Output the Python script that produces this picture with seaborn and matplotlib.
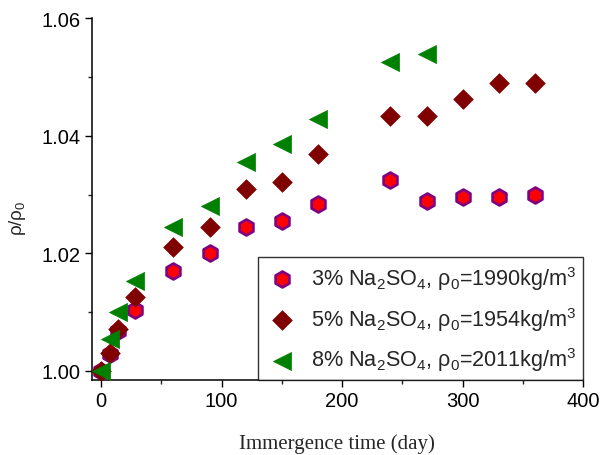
import matplotlib
matplotlib.use("Agg")
import matplotlib.pyplot as plt
import seaborn as sns
import pandas as pd
from matplotlib.ticker import MultipleLocator

days = [0, 7, 14, 28, 60, 90, 120, 150, 180, 240, 270, 300, 330, 360]
days_8 = [0, 7, 14, 28, 60, 90, 120, 150, 180, 240, 270]
ratio_3 = [1.0000, 1.0029, 1.0068, 1.0104, 1.0170, 1.0200, 1.0244, 1.0255, 1.0284,
           1.0325, 1.0289, 1.0295, 1.0295, 1.0300]
ratio_5 = [1.0000, 1.0030, 1.0071, 1.0125, 1.0211, 1.0245, 1.0309, 1.0322, 1.0369,
           1.0433, 1.0433, 1.0463, 1.0489, 1.0489]
ratio_8 = [1.0000, 1.0054, 1.0100, 1.0153, 1.0244, 1.0281, 1.0355, 1.0386, 1.0428,
           1.0526, 1.0539]
labels = [r"3% Na$_2$SO$_4$, $\rho_0$=1990kg/m$^3$",
          r"5% Na$_2$SO$_4$, $\rho_0$=1954kg/m$^3$",
          r"8% Na$_2$SO$_4$, $\rho_0$=2011kg/m$^3$"]

sns.set_style("ticks")
plt.rcParams['font.family'] = ['Liberation Sans', 'DejaVu Sans']
plt.rcParams['mathtext.fontset'] = 'custom'
plt.rcParams['mathtext.rm'] = 'Liberation Sans'
plt.rcParams['mathtext.it'] = 'Liberation Sans'
plt.rcParams['mathtext.default'] = 'regular'

fig = plt.figure(figsize=(6.06, 4.56), dpi=100)
ax = fig.add_axes([0.1510, 0.1645, 0.8113, 0.7938])

df3 = pd.DataFrame({"day": days, "r": ratio_3})
df5 = pd.DataFrame({"day": days, "r": ratio_5})
df8 = pd.DataFrame({"day": days_8, "r": ratio_8})

sns.scatterplot(data=df3, x="day", y="r", ax=ax, marker="h", s=130,
                color="#ff0000", edgecolor="#800080", linewidth=2.0,
                label=labels[0], zorder=3)
sns.scatterplot(data=df5, x="day", y="r", ax=ax, marker="D", s=100,
                color="#800000", edgecolor="#800000", linewidth=0.5,
                label=labels[1], zorder=4)
sns.scatterplot(data=df8, x="day", y="r", ax=ax, marker="<", s=170,
                color="#008000", edgecolor="#008000", linewidth=0.5,
                label=labels[2], zorder=5)

ax.set_xlim(-8, 400)
ax.set_ylim(0.99847, 1.06)
ax.xaxis.set_major_locator(MultipleLocator(100))
ax.xaxis.set_minor_locator(MultipleLocator(50))
ax.yaxis.set_major_locator(MultipleLocator(0.02))
ax.yaxis.set_minor_locator(MultipleLocator(0.01))
ax.yaxis.set_major_formatter(matplotlib.ticker.FormatStrFormatter('%.2f'))

for s in ["top", "right"]:
    ax.spines[s].set_visible(False)
for s in ["left", "bottom"]:
    ax.spines[s].set_linewidth(1.1)
    ax.spines[s].set_color("black")
ax.tick_params(which="major", length=5, width=1.0, direction="out",
               labelsize=14.5, pad=3, colors="black")
ax.tick_params(which="minor", length=3, width=1.0, direction="out")

ax.set_xlabel("Immergence time (day)", fontsize=15, family=["Liberation Serif"],
              labelpad=17)
ax.set_ylabel(r"$\rho$/$\rho_0$", fontsize=13.5)
ax.yaxis.set_label_coords(-0.13, 0.45)

leg = ax.legend(loc="lower right", bbox_to_anchor=(1.0, 0.0), fontsize=15.6,
                frameon=True, fancybox=False, edgecolor="black",
                borderpad=0.3, labelspacing=0.6, handletextpad=0.55,
                borderaxespad=0.0, handlelength=1.6)
leg.get_frame().set_linewidth(1.0)

fig.savefig("out.png", dpi=100)
